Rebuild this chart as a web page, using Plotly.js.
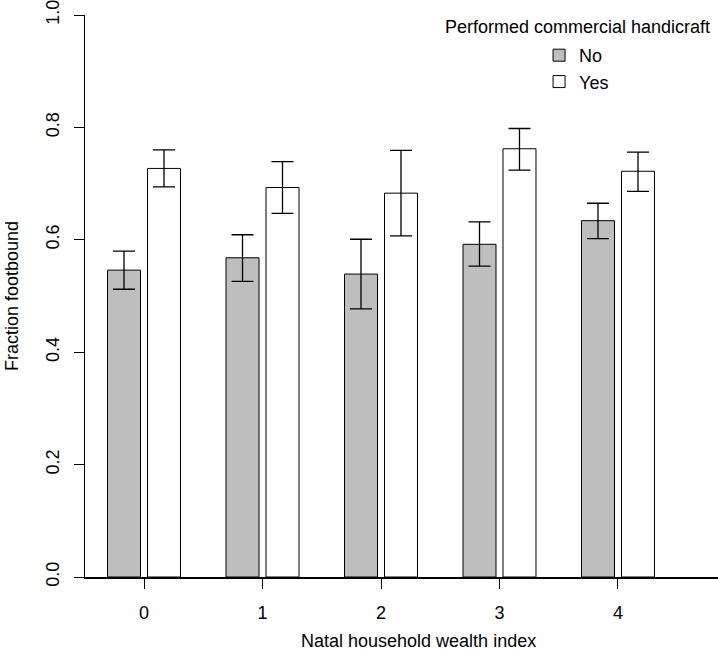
<!DOCTYPE html>
<html>
<head>
<meta charset="utf-8">
<script src="https://cdn.plot.ly/plotly-3.0.1.min.js"></script>
<style>
  html, body { margin: 0; padding: 0; background: #fff; }
  #chart { width: 718px; height: 664px; }
</style>
</head>
<body>
<div id="chart"></div>
<script>
// Wealth index categories
const wealthIndex = [0, 1, 2, 3, 4];
const tickLabels = ['0', '1', '2', '3', '4'];

// Did not perform commercial handicraft
const noMean  = [0.546, 0.568, 0.539, 0.592, 0.634];
const noLower = [0.512, 0.526, 0.477, 0.553, 0.602];
const noUpper = [0.580, 0.609, 0.601, 0.632, 0.665];

// Performed commercial handicraft
const yesMean  = [0.727, 0.693, 0.683, 0.762, 0.722];
const yesLower = [0.694, 0.647, 0.607, 0.724, 0.686];
const yesUpper = [0.760, 0.739, 0.759, 0.798, 0.756];

const yTicks = [0, 0.2, 0.4, 0.6, 0.8, 1.0];
const yTickLabels = ['0.0', '0.2', '0.4', '0.6', '0.8', '1.0'];

const FONT = 'Liberation Sans, Arial, Helvetica, sans-serif';

function errBars(mean, lower, upper) {
    return {
        type: 'data',
        symmetric: false,
        array: upper.map((u, i) => u - mean[i]),
        arrayminus: mean.map((m, i) => m - lower[i]),
        color: '#000',
        thickness: 1.3,
        width: 11
    };
}

const traces = [
    {
        type: 'bar', name: 'No', x: wealthIndex, y: noMean,
        marker: { color: '#bebebe', line: { color: '#000', width: 1 } },
        error_y: errBars(noMean, noLower, noUpper),
        hoverinfo: 'skip'
    },
    {
        type: 'bar', name: 'Yes', x: wealthIndex, y: yesMean,
        marker: { color: '#ffffff', line: { color: '#000', width: 1 } },
        error_y: errBars(yesMean, yesLower, yesUpper),
        hoverinfo: 'skip'
    }
];

const layout = {
    width: 718,
    height: 664,
    margin: { l: 85, r: 0, t: 15, b: 87 },
    paper_bgcolor: '#fff',
    plot_bgcolor: '#fff',
    font: { family: FONT, size: 18, color: '#000' },
    barmode: 'group',
    bargap: 0.325,
    bargroupgap: 0.175,
    showlegend: true,
    legend: {
        x: 0.7173, y: 0.9609, xanchor: 'left', yanchor: 'top',
        bgcolor: 'rgba(0,0,0,0)',
        font: { family: FONT, size: 18, color: '#000' },
        traceorder: 'normal'
    },
    xaxis: {
        type: 'linear',
        range: [-0.498, 4.844],
        tickvals: wealthIndex,
        ticktext: tickLabels,
        ticks: 'outside', ticklen: 10, tickwidth: 1, tickcolor: '#000',
        ticklabelstandoff: 8,
        showline: true, linecolor: '#000', linewidth: 2,
        showgrid: false, zeroline: false,
        fixedrange: true
    },
    yaxis: {
        range: [0, 1],
        tickvals: yTicks,
        ticktext: yTickLabels,
        tickangle: -90,
        ticks: 'outside', ticklen: 10, tickwidth: 1, tickcolor: '#000',
        ticklabelstandoff: 8,
        ticklabeloverflow: 'allow',
        showline: true, linecolor: '#000', linewidth: 1,
        showgrid: false, zeroline: false,
        fixedrange: true
    },
    annotations: [
        {
            text: 'Performed commercial handicraft',
            xref: 'paper', yref: 'paper', x: 0.7788, y: 0.9786,
            xanchor: 'center', yanchor: 'middle', showarrow: false,
            font: { family: FONT, size: 18, color: '#000' }
        },
        {
            text: 'Natal household wealth index',
            xref: 'paper', yref: 'paper', x: 0.5276, y: -0.1139,
            xanchor: 'center', yanchor: 'middle', showarrow: false,
            font: { family: FONT, size: 18, color: '#000' }
        },
        {
            text: 'Fraction footbound',
            xref: 'paper', yref: 'paper', x: -0.1153, y: 0.5,
            xanchor: 'center', yanchor: 'middle', showarrow: false,
            textangle: -90,
            font: { family: FONT, size: 18, color: '#000' }
        }
    ]
};

Plotly.newPlot('chart', traces, layout, { displayModeBar: false, staticPlot: true });
</script>
</body>
</html>
